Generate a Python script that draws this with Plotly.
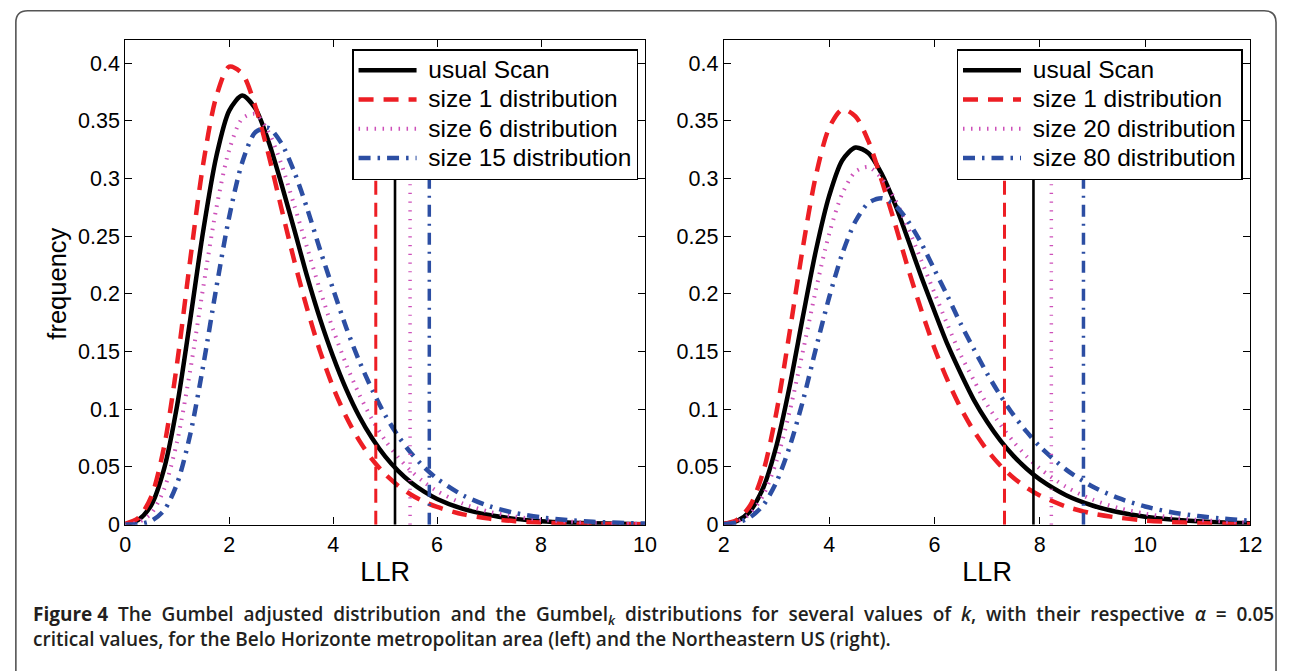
import plotly.graph_objects as go

# ---------------- data ----------------
llr_left = [0, 0.25, 0.5, 0.75, 1.0, 1.25, 1.5, 1.75, 2.0, 2.25, 2.5, 2.75, 3.0, 3.25, 3.5, 3.75,
            4.0, 4.25, 4.5, 4.75, 5.0, 5.25, 5.5, 5.75, 6.0, 6.5, 7.0, 7.5, 8.0, 8.5, 9.0, 9.5, 10.0]
left_usual = [0.0006, 0.0042, 0.017, 0.049, 0.104, 0.178, 0.255, 0.319, 0.359, 0.372, 0.361, 0.333,
              0.296, 0.256, 0.215, 0.178, 0.1456, 0.1175, 0.094, 0.0749, 0.0592, 0.0466, 0.0365,
              0.0286, 0.0223, 0.0136, 0.0083, 0.0050, 0.0030, 0.0018, 0.0011, 0.0007, 0.0004]
left_size1 = [0.0008, 0.0058, 0.0243, 0.0684, 0.141, 0.230, 0.313, 0.371, 0.397, 0.391, 0.363, 0.322,
              0.275, 0.229, 0.187, 0.150, 0.119, 0.0935, 0.0730, 0.0566, 0.0437, 0.0338, 0.0259,
              0.0199, 0.0153, 0.0089, 0.0052, 0.0030, 0.0018, 0.0010, 0.0006, 0.0004, 0.0002]
left_size6 = [0.0003, 0.0021, 0.0099, 0.0312, 0.0727, 0.134, 0.206, 0.274, 0.325, 0.352, 0.356, 0.341,
              0.313, 0.277, 0.240, 0.203, 0.169, 0.139, 0.113, 0.0912, 0.0731, 0.0584, 0.0464,
              0.0368, 0.0291, 0.0181, 0.0112, 0.0070, 0.0043, 0.0027, 0.0016, 0.0010, 0.0006]
left_size15 = [0.0001, 0.0005, 0.0032, 0.0127, 0.0360, 0.0784, 0.138, 0.205, 0.267, 0.314, 0.340, 0.344,
               0.331, 0.306, 0.274, 0.238, 0.204, 0.171, 0.142, 0.117, 0.0950, 0.0769, 0.0620,
               0.0498, 0.0399, 0.0254, 0.0160, 0.0101, 0.0063, 0.0040, 0.0025, 0.0016, 0.0010]
left_critical = [5.19, 4.82, 5.48, 5.85]   # usual, size 1, size 6, size 15

llr_right = [2.0, 2.25, 2.5, 2.75, 3.0, 3.25, 3.5, 3.75, 4.0, 4.25, 4.5, 4.75, 5.0, 5.25, 5.5, 5.75,
             6.0, 6.25, 6.5, 6.75, 7.0, 7.25, 7.5, 7.75, 8.0, 8.5, 9.0, 9.5, 10.0, 10.5, 11.0, 11.5, 12.0]
right_usual = [0.0006, 0.0032, 0.0119, 0.0322, 0.0686, 0.120, 0.180, 0.238, 0.285, 0.316, 0.327, 0.322,
               0.304, 0.278, 0.247, 0.215, 0.185, 0.156, 0.131, 0.108, 0.0892, 0.0730, 0.0596,
               0.0484, 0.0392, 0.0255, 0.0166, 0.0107, 0.0069, 0.0044, 0.0029, 0.0018, 0.0012]
right_size1 = [0.0007, 0.0042, 0.0166, 0.0462, 0.0977, 0.167, 0.240, 0.303, 0.344, 0.360, 0.354, 0.332,
               0.298, 0.261, 0.222, 0.186, 0.153, 0.125, 0.101, 0.0810, 0.0646, 0.0513, 0.0406,
               0.0321, 0.0253, 0.0157, 0.0096, 0.0060, 0.0036, 0.0022, 0.0014, 0.0008, 0.0005]
right_size20 = [0.0005, 0.0027, 0.0095, 0.0257, 0.0550, 0.0981, 0.150, 0.204, 0.252, 0.287, 0.306, 0.310,
                0.300, 0.282, 0.257, 0.229, 0.201, 0.173, 0.147, 0.125, 0.104, 0.0868, 0.0719,
                0.0592, 0.0487, 0.0327, 0.0217, 0.0144, 0.0095, 0.0063, 0.0041, 0.0027, 0.0018]
right_size80 = [0.0004, 0.0019, 0.0064, 0.0170, 0.0370, 0.0676, 0.107, 0.153, 0.197, 0.235, 0.263, 0.279,
                0.283, 0.277, 0.263, 0.244, 0.221, 0.198, 0.174, 0.152, 0.131, 0.112, 0.0952,
                0.0806, 0.0678, 0.0477, 0.0331, 0.0229, 0.0157, 0.0108, 0.0074, 0.0051, 0.0034]
right_critical = [7.88, 7.33, 8.22, 8.83]  # usual, size 1, size 20, size 80

critical_top = 0.3

left_names = ["usual Scan", "size 1 distribution", "size 6 distribution", "size 15 distribution"]
right_names = ["usual Scan", "size 1 distribution", "size 20 distribution", "size 80 distribution"]

y_tickvals = [0, 0.05, 0.1, 0.15, 0.2, 0.25, 0.3, 0.35, 0.4]
y_ticktext = ["0", "0.05", "0.1", "0.15", "0.2", "0.25", "0.3", "0.35", "0.4"]
x_ticks_left = [0, 2, 4, 6, 8, 10]
x_ticks_right = [2, 4, 6, 8, 10, 12]

x_title = "LLR"
y_title = "frequency"
caption_words1 = ["<b>Figure 4</b>", "The", "Gumbel", "adjusted", "distribution", "and", "the",
                  "Gumbel<sub><i>k</i></sub>", "distributions", "for", "several", "values", "of",
                  "<i>k</i>,", "with", "their", "respective", "<i>α</i>", "=", "0.05"]
caption_line2 = "critical values, for the Belo Horizonte metropolitan area (left) and the Northeastern US (right)."

# ---------------- styles ----------------
BLACK = "#000000"
RED = "rgb(237,30,36)"
PINK = "rgb(205,80,185)"
BLUE = "rgb(44,78,163)"
FONT = "Liberation Sans, Arial, Helvetica, sans-serif"

curve_styles = [
    dict(color=BLACK, width=4.5, dash="solid"),
    dict(color=RED, width=4.5, dash="15px,10px"),
    dict(color=PINK, width=4, dash="1.5px,6.5px"),
    dict(color=BLUE, width=4.5, dash="12px,7px,2.5px,7px"),
]
vline_styles = [
    dict(color=BLACK, width=2.6, dash="solid"),
    dict(color=RED, width=3, dash="14px,8px"),
    dict(color=PINK, width=3.5, dash="1.2px,7.5px"),
    dict(color=BLUE, width=3.5, dash="12px,7px,2px,7px"),
]

fig = go.Figure()

panels = [
    (llr_left, [left_usual, left_size1, left_size6, left_size15], left_critical, left_names, "x", "y", "legend"),
    (llr_right, [right_usual, right_size1, right_size20, right_size80], right_critical, right_names, "x2", "y2", "legend2"),
]

for xs, series, crit, names, xa, ya, lg in panels:
    for ys, name, st in zip(series, names, curve_styles):
        fig.add_trace(go.Scatter(x=xs, y=ys, mode="lines",
                                 name=f'<span style="font-size:24.5px">&nbsp;{name}</span>',
                                 line=dict(shape="spline", smoothing=0.8, **st),
                                 xaxis=xa, yaxis=ya, legend=lg, showlegend=True))
    for c, st in zip(crit, vline_styles):
        fig.add_trace(go.Scatter(x=[c, c], y=[0, critical_top], mode="lines", line=st,
                                 xaxis=xa, yaxis=ya, showlegend=False, hoverinfo="skip"))

axis_common = dict(showline=True, linecolor="black", linewidth=1.3, mirror="ticks", ticks="inside",
                   ticklen=7, tickcolor="black", tickwidth=1.1, showgrid=False, zeroline=False,
                   tickfont=dict(family=FONT, size=21.5, color="black"))

H = 671
W = 1290
ydom = [1 - 535 / H, 1 - 41 / H]

legend_common = dict(xanchor="right", yanchor="top", bgcolor="white", bordercolor="black",
                     borderwidth=1.5, itemwidth=58, tracegroupgap=0,
                     font=dict(family=FONT, size=20.2, color="black"))

fig.update_layout(
    width=W, height=H, autosize=False,
    margin=dict(l=0, r=0, t=0, b=0),
    paper_bgcolor="white", plot_bgcolor="white",
    showlegend=True,
    xaxis=dict(domain=[121 / W, 648 / W], range=[0, 10], tickvals=x_ticks_left, anchor="y",
               title=dict(text=x_title, font=dict(family=FONT, size=27, color="black"), standoff=6),
               **axis_common),
    yaxis=dict(domain=ydom, range=[0, 0.42], tickvals=y_tickvals, ticktext=y_ticktext, anchor="x",
               **axis_common),
    xaxis2=dict(domain=[728 / W, 1262 / W], range=[2, 12], tickvals=x_ticks_right, anchor="y2",
                title=dict(text=x_title, font=dict(family=FONT, size=27, color="black"), standoff=6),
                **axis_common),
    yaxis2=dict(domain=ydom, range=[0, 0.42], tickvals=y_tickvals, ticktext=y_ticktext, anchor="x2",
                **axis_common),
    legend=dict(x=641 / W, y=1 - 50 / H, **legend_common),
    legend2=dict(x=1254 / W, y=1 - 50 / H, **legend_common),
)

# y-axis title of the left panel (sits tight against the tick labels, as in the reference)
fig.add_annotation(text=y_title, x=52 / W, y=1 - 289 / H, xref="paper", yref="paper",
                   xanchor="center", yanchor="middle", textangle=-90, showarrow=False,
                   font=dict(family=FONT, size=25.5, color="black"))

# rounded frame around the figure
x0, x1 = 10 / W, 1288 / W
y1, y0 = 1 - 11 / H, 1 - 690 / H
rx, ry = 12 / W, 12 / H
frame = (f"M {x0},{y0} L {x0},{y1 - ry} Q {x0},{y1} {x0 + rx},{y1} "
         f"L {x1 - rx},{y1} Q {x1},{y1} {x1},{y1 - ry} L {x1},{y0}")
fig.add_shape(type="path", path=frame, xref="paper", yref="paper",
              line=dict(color="#555555", width=1.6))

cap_font = dict(family="Open Sans, Noto Sans, sans-serif", size=19, color="#231f20", weight=600)
# first caption line is justified in the reference: widen the word gaps
caption_line1 = "  ".join(caption_words1)
fig.add_annotation(text=caption_line1, x=25 / W, y=1 - 627 / H, xref="paper", yref="paper",
                   xanchor="left", yanchor="middle", showarrow=False, font=cap_font, align="left")
fig.add_annotation(text=caption_line2, x=25 / W, y=1 - 652 / H, xref="paper", yref="paper",
                   xanchor="left", yanchor="middle", showarrow=False, font=cap_font, align="left")

fig.write_html("out.html", config={"displayModeBar": False},
               post_script="document.body.style.margin='0px';document.body.style.overflow='hidden';")
